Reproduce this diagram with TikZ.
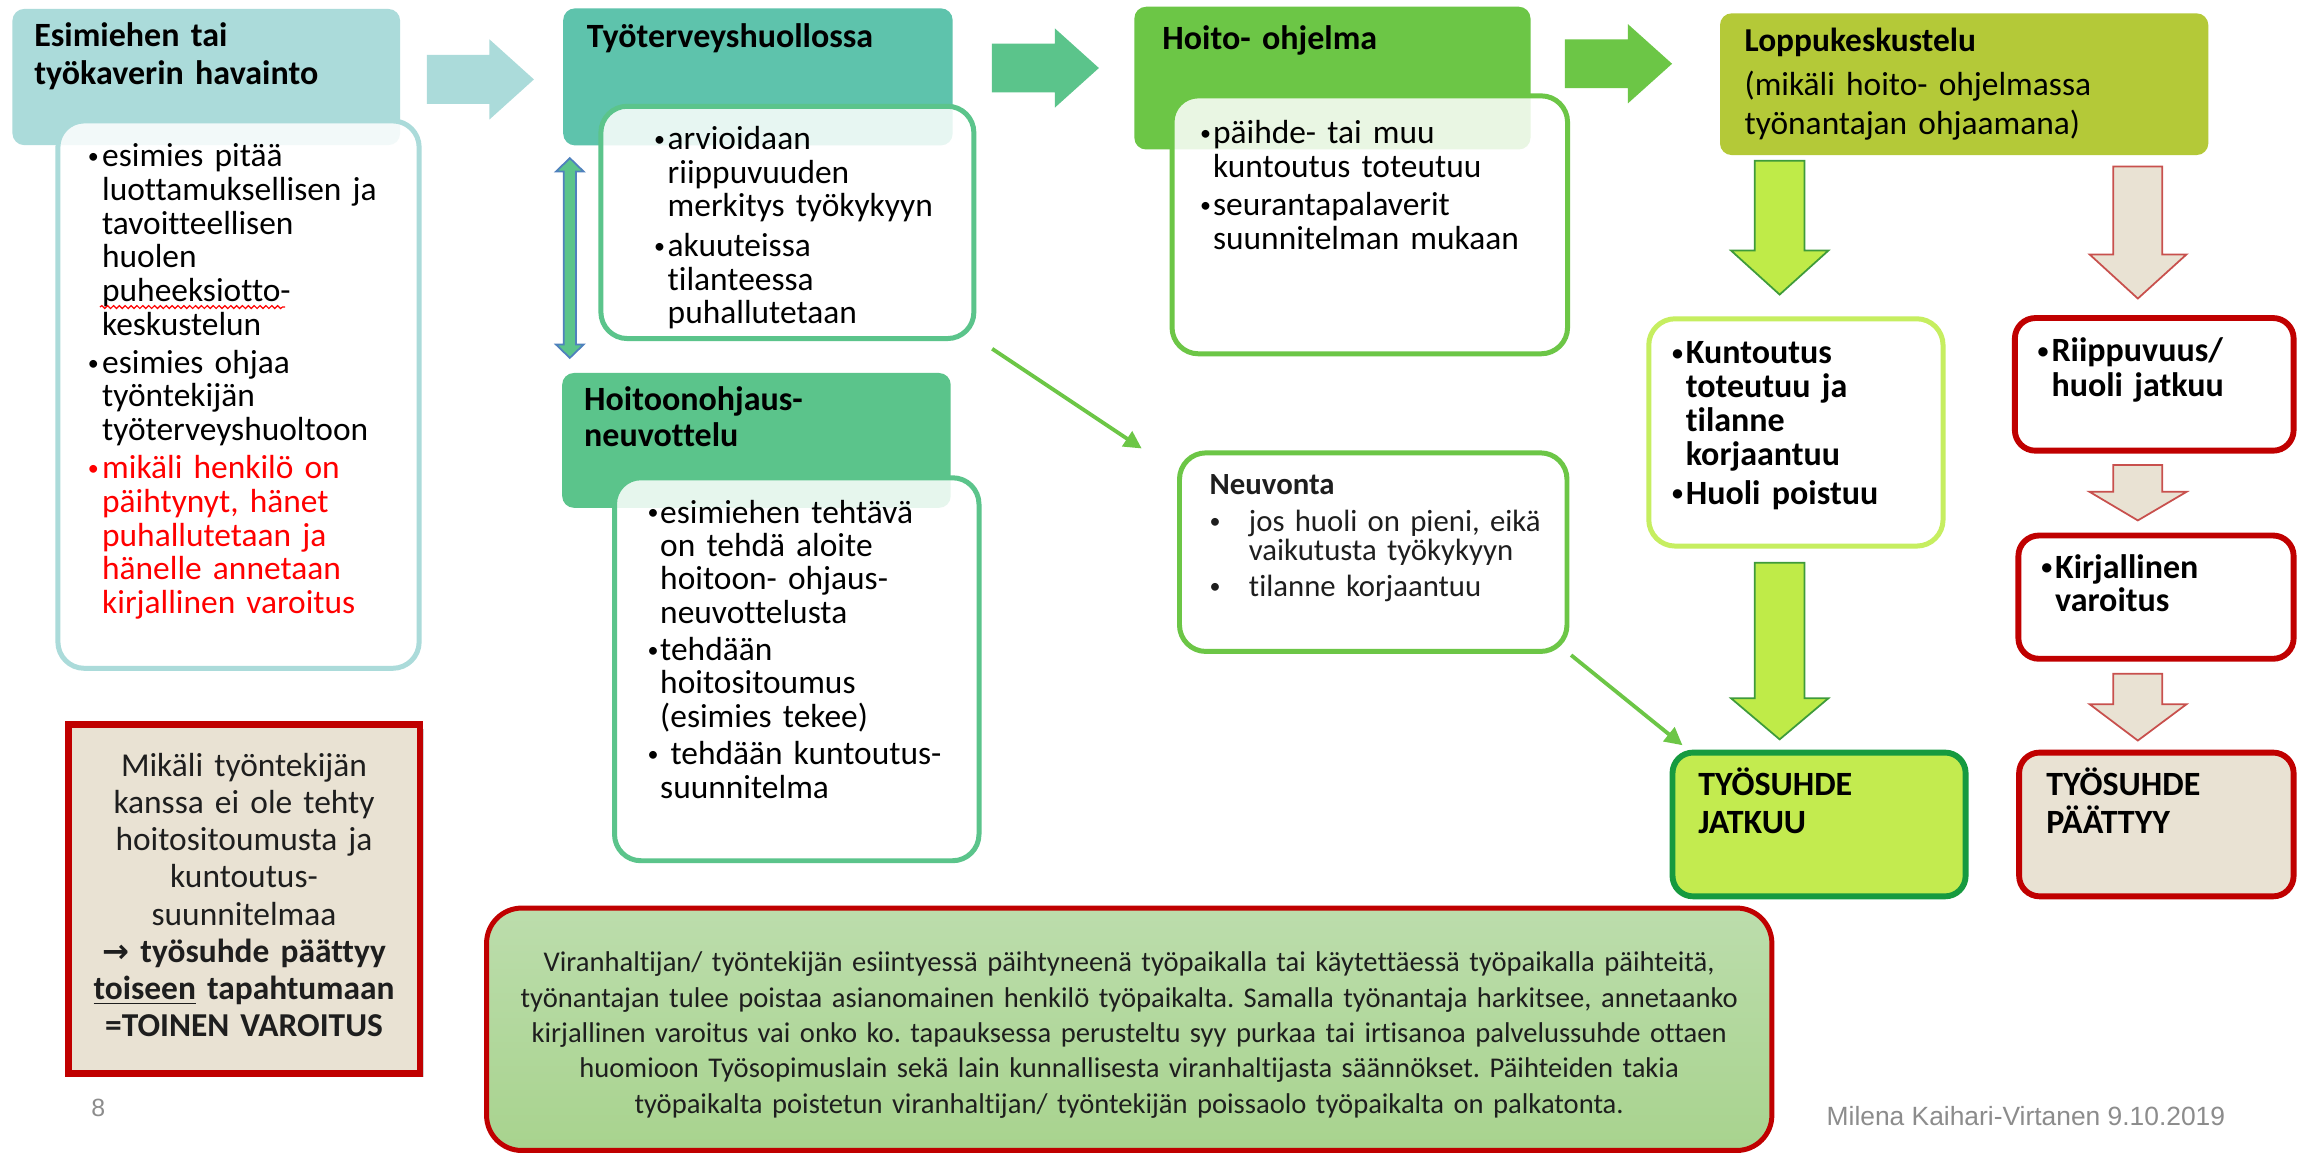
\documentclass[tikz,border=0pt]{standalone}
\usepackage{fontspec}
\setmainfont{Carlito}[Ligatures={TeX,NoCommon}]
\newfontfamily\arialf{Liberation Sans}
\newfontfamily\djv{DejaVu Sans}
\usetikzlibrary{fit,shadows,decorations.pathmorphing,arrows.meta}
\definecolor{tealA}{RGB}{171,219,218}
\definecolor{tealB}{RGB}{94,195,172}
\definecolor{grC}{RGB}{91,196,139}
\definecolor{grD}{RGB}{108,198,70}
\definecolor{olive}{RGB}{180,201,56}
\definecolor{lime}{RGB}{191,235,72}
\definecolor{limeEdge}{RGB}{62,155,58}
\definecolor{limeBorder}{RGB}{198,238,96}
\definecolor{kFill}{RGB}{195,235,79}
\definecolor{kBorder}{RGB}{22,154,63}
\definecolor{beige}{RGB}{233,226,211}
\definecolor{dred}{RGB}{192,0,0}
\definecolor{arrRed}{RGB}{200,80,77}
\definecolor{nTop}{RGB}{188,221,172}
\definecolor{nBot}{RGB}{168,211,142}
\definecolor{dblEdge}{RGB}{79,129,189}
\definecolor{gtxt}{RGB}{140,140,140}
\definecolor{txtdark}{RGB}{30,30,30}
\newlength\bw
\newcommand\bl{\makebox[\bw][l]{\raisebox{1.1pt}{\fontsize{7.5}{7.5}\selectfont•}}}
\newcommand\ci{\hspace*{\bw}}
\newcommand\fsz[2]{\fontsize{#1}{#2}\selectfont}
\frenchspacing
\begin{document}
\begin{tikzpicture}[x=0.5pt,y=-0.5pt,
  hdr/.style={rounded corners=4pt, inner sep=0pt},
  body/.style={draw, line width=1.7pt, rounded corners=9pt, fill=white, fill opacity=0.85, inner sep=0pt},
  rbox/.style={draw=dred, line width=2pt, rounded corners=7pt, inner sep=0pt},
  txt/.style={anchor=base west, inner sep=0pt, align=left, text width=170pt},
  ctxt/.style={anchor=base, inner sep=0pt, align=center},
  limearr/.style={fill=lime, draw=limeEdge, line width=0.6pt},
  beigearr/.style={fill=beige, draw=arrRed, line width=0.6pt},
  thinarr/.style={draw=grD, line width=1.3pt, -{Triangle[length=6pt,width=6pt]}}]
\useasboundingbox (0,0) rectangle (1568,788);
\fill[white] (0,0) rectangle (1568,788);

% ---------- headers ----------
\node[hdr, fill=tealA, fit={(8.5,6.1)(273,99)}] (hA) {};
\node[hdr, fill=tealB, fit={(384.3,5.7)(650,99.2)}] (hB) {};
\node[hdr, fill=grC, fit={(383.6,254.5)(648.7,346.5)}] (hC) {};
\node[hdr, fill=grD, fit={(774,4.6)(1044.3,102)}] (hD) {};
\node[hdr, fill=olive, fit={(1173.6,9.1)(1506.8,105.8)}] (hF) {};

% ---------- body boxes ----------
\node[body, draw=tealA, fit={(39.5,82.5)(286,456)}] (bA) {};
\node[body, draw=grC, fit={(410,72.5)(664.5,231)}] (bB) {};
\node[body, draw=grC, fit={(419.3,326)(668,587.3)}] (bC) {};
\node[body, draw=grD, fit={(799.7,65.4)(1069.6,241.4)}] (bD) {};
\node[body, draw=grD, fit={(804.8,309)(1069.2,444.5)}] (bE) {};
\node[body, draw=limeBorder, fit={(1125,217.5)(1325.8,372.6)}] (bH) {};
\node[rbox, fill=white, fit={(1374.8,217)(1565,307.5)}] (bI) {};
\node[rbox, fill=white, fit={(1377.2,365.4)(1565,449.5)}] (bJ) {};
\node[rbox, draw=kBorder, fill=kFill, fit={(1141.2,513.5)(1341.2,611.6)}] (bK) {};
\node[rbox, fill=beige, fit={(1377.7,513.5)(1565,611.6)}] (bL) {};
\node[draw=dred, line width=2.3pt, fill=beige, inner sep=0pt,
      drop shadow={opacity=0.35, shadow xshift=1.3pt, shadow yshift=-1.3pt},
      fit={(46.5,494.5)(286.5,732.5)}] (bM) {};
\node[draw=dred, line width=1.7pt, rounded corners=12pt, top color=nTop, bottom color=nBot,
      inner sep=0pt, fit={(332,619.6)(1209,785)}] (bN) {};

% ---------- titles ----------
\node[txt, font=\fsz{11.6}{12.95}\bfseries] (tA) at (23,32) {Esimiehen tai\\työkaverin havainto};
\node[txt, font=\fsz{11.6}{12.95}\bfseries] (tB) at (400,32.2) {Työterveyshuollossa};
\node[txt, font=\fsz{11.6}{12.3}\bfseries] (tC) at (398.2,280.2) {Hoitoonohjaus-\\neuvottelu};
\node[txt, font=\fsz{11.6}{12.95}\bfseries] (tD) at (792.8,33.5) {Hoito- ohjelma};
\node[txt, font=\fsz{11.4}{13.3}] (tF) at (1190,35.3)
  {{\bfseries Loppukeskustelu}\\[1.7pt](mikäli hoito- ohjelmassa\\työnantajan ohjaamana)};

% ---------- body texts ----------
\node[txt, font={\fsz{11.4}{11.5}\setlength\bw{4.9pt}}] (xA) at (59.5,113.7) {%
\bl esimies pitää\\
\ci luottamuksellisen ja\\
\ci tavoitteellisen\\
\ci huolen\\
\ci puheeksiotto-\\
\ci keskustelun\\[1.5pt]
\bl esimies ohjaa\\
\ci työntekijän\\
\ci työterveyshuoltoon\\[1.5pt]
\color{red}\bl mikäli henkilö on\\
\ci päihtynyt, hänet\\
\ci puhallutetaan ja\\
\ci hänelle annetaan\\
\ci kirjallinen varoitus};
\draw[red, line width=0.4pt, decorate, decoration={snake, amplitude=0.5pt, segment length=2pt}]
  (68.2,209.5) -- (194.5,209.5);

\node[txt, font={\fsz{11.4}{11.35}\setlength\bw{4.6pt}}] (xB) at (446,102.2) {%
\bl arvioidaan\\
\ci riippuvuuden\\
\ci merkitys työkykyyn\\[2.5pt]
\bl akuuteissa\\
\ci tilanteessa\\
\ci puhallutetaan};

\node[txt, font={\fsz{11.4}{11.35}\setlength\bw{4.3pt}}] (xC) at (441.5,357) {%
\bl esimiehen tehtävä\\
\ci on tehdä aloite\\
\ci hoitoon- ohjaus-\\
\ci neuvottelusta\\[1.5pt]
\bl tehdään\\
\ci hoitositoumus\\
\ci (esimies tekee)\\[1.5pt]
\bl\hspace{3.5pt}tehdään kuntoutus-\\
\ci suunnitelma};

\node[txt, font={\fsz{11.4}{11.5}\setlength\bw{4.4pt}}] (xD) at (818.5,98) {%
\bl päihde- tai muu\\
\ci kuntoutus toteutuu\\[1.5pt]
\bl seurantapalaverit\\
\ci suunnitelman mukaan};

\node[txt, text=txtdark, font={\fsz{10.5}{9.65}\setlength\bw{13.4pt}}] (xE) at (825,337.7) {%
{\bfseries Neuvonta}\\[2.9pt]
\bl jos huoli on pieni, eikä\\
\ci vaikutusta työkykyyn\\[2.85pt]
\bl tilanne korjaantuu};

\node[txt, font={\fsz{11.6}{11.6}\bfseries\setlength\bw{4.7pt}}] (xH) at (1140.5,248.1) {%
\bl Kuntoutus\\
\ci toteutuu ja\\
\ci tilanne\\
\ci korjaantuu\\[1.5pt]
\bl Huoli poistuu};

\node[txt, font={\fsz{11.6}{11.75}\bfseries\setlength\bw{4.7pt}}] (xI) at (1390,246.7) {%
\bl Riippuvuus/\\
\ci huoli jatkuu};

\node[txt, font={\fsz{11.6}{11.4}\bfseries\setlength\bw{4.7pt}}] (xJ) at (1392.5,394.4) {%
\bl Kirjallinen\\
\ci varoitus};

\node[txt, font=\fsz{11.6}{13}\bfseries] (xK) at (1158.4,542.6) {TYÖSUHDE\\JATKUU};
\node[txt, font=\fsz{11.6}{13}\bfseries] (xL) at (1395.9,542.6) {TYÖSUHDE\\PÄÄTTYY};

\node[ctxt, text width=118pt, text=txtdark, font=\fsz{11.4}{12.65}] (xM) at (166.5,530) {%
Mikäli työntekijän\\
kanssa ei ole tehty\\
hoitositoumusta ja\\
kuntoutus-\\
suunnitelmaa\\
\textbf{{\djv\fsz{11}{10}→} työsuhde päättyy}\\
\textbf{\underline{toiseen} tapahtumaan}\\
\textbf{=TOINEN VAROITUS}};

\node[ctxt, text width=440pt, text=txtdark, font=\fsz{9.75}{12.07}] (xN) at (770.5,663) {%
Viranhaltijan/ työntekijän esiintyessä päihtyneenä työpaikalla tai käytettäessä työpaikalla päihteitä,\\
työnantajan tulee poistaa asianomainen henkilö työpaikalta. Samalla työnantaja harkitsee, annetaanko\\
kirjallinen varoitus vai onko ko. tapauksessa perusteltu syy purkaa tai irtisanoa palvelussuhde ottaen\\
huomioon Työsopimuslain sekä lain kunnallisesta viranhaltijasta säännökset. Päihteiden takia\\
työpaikalta poistetun viranhaltijan/ työntekijän poissaolo työpaikalta on palkatonta.};

\node[anchor=base, inner sep=0pt, text=gtxt, font=\arialf\fsz{8.5}{9}] (pg) at (67,761.5) {8};
\node[anchor=base west, inner sep=0pt, text=gtxt, font=\arialf\fsz{9}{10}] (auth) at (1246,768)
  {Milena Kaihari-Virtanen 9.10.2019};

% ---------- block arrows (right) ----------
\fill[tealA] (291.2,37.5) -- (333.9,37.5) -- (333.9,26.8) -- (364.3,54.2) -- (333.9,81.6) -- (333.9,70.9) -- (291.2,70.9) -- cycle;
\fill[grC] (676.7,29.7) -- (719.8,29.7) -- (719.8,19.4) -- (749.8,46.4) -- (719.8,73.4) -- (719.8,63.1) -- (676.7,63.1) -- cycle;
\fill[grD] (1067.8,26.8) -- (1110.8,26.8) -- (1110.8,16.5) -- (1140.9,43.5) -- (1110.8,70.5) -- (1110.8,60.2) -- (1067.8,60.2) -- cycle;

% ---------- double arrow ----------
\draw[fill=grC, draw=dblEdge, line width=0.6pt]
  (388.8,107.9) -- (398.2,117) -- (393,117) -- (393,235.1) -- (398.2,235.1) -- (388.8,244.2)
  -- (379.4,235.1) -- (384.6,235.1) -- (384.6,117) -- (379.4,117) -- cycle;

% ---------- down arrows ----------
\draw[limearr] (1197.3,109.7) -- (1231.3,109.7) -- (1231.3,171) -- (1247.5,171) -- (1214.3,201) -- (1181.2,171) -- (1197.3,171) -- cycle;
\draw[limearr] (1197.3,384) -- (1231.3,384) -- (1231.3,476.5) -- (1247.5,476.5) -- (1214.3,504.5) -- (1181.2,476.5) -- (1197.3,476.5) -- cycle;
\draw[beigearr] (1442,113.6) -- (1475.4,113.6) -- (1475.4,173.6) -- (1491.9,173.6) -- (1458.7,203.7) -- (1425.8,173.6) -- (1442,173.6) -- cycle;
\draw[beigearr] (1442,317.3) -- (1475.4,317.3) -- (1475.4,335.6) -- (1491.9,335.6) -- (1458.7,355.1) -- (1425.8,335.6) -- (1442,335.6) -- cycle;
\draw[beigearr] (1442,459.7) -- (1475.4,459.7) -- (1475.4,480.5) -- (1491.9,480.5) -- (1458.7,505.3) -- (1425.8,480.5) -- (1442,480.5) -- cycle;

% ---------- thin connectors ----------
\coordinate (c1s) at (677,238);
\coordinate (c1e) at (779,306);
\coordinate (c2s) at (1072,447);
\coordinate (c2e) at (1148,508.5);
\draw[thinarr] (c1s) -- (c1e);
\draw[thinarr] (c2s) -- (c2e);
\end{tikzpicture}
\end{document}
